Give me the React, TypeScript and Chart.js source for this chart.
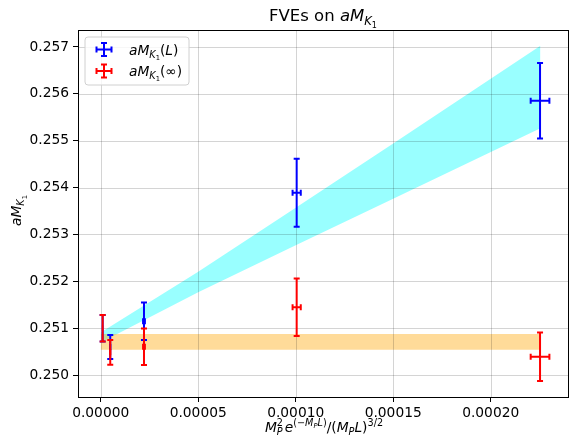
import React, { useEffect, useRef } from "react";
import { Chart, registerables } from "chart.js";

Chart.register(...registerables);

// ---- data ----
const xPoints = [1.0e-6, 4.9e-6, 2.22e-5, 1.005e-4, 2.253e-4];
const xErr = [2e-8, 1e-7, 4.7e-7, 2.1e-6, 4.8e-6];
const yFiniteL = [0.250997, 0.250598, 0.251146, 0.25389, 0.255854];
const yFiniteLErr = [0.000284, 0.000256, 0.000399, 0.000726, 0.000805];
const yInfinite = [0.250997, 0.250484, 0.250604, 0.251445, 0.250391];
const yInfiniteErr = [0.000284, 0.000263, 0.000391, 0.000612, 0.000516];

const fitBandX = [0, 0.00005, 0.0001, 0.00015, 0.0002255];
const fitBandUpper = [0.250907, 0.252205, 0.25357, 0.254942, 0.257025];
const fitBandLower = [0.250694, 0.251764, 0.252768, 0.25376, 0.255267];

const constBandX = [0, 0.0002255];
const constBandUpper = [0.250875, 0.250875];
const constBandLower = [0.25054, 0.25054];

const xTickValues = [0, 0.00005, 0.0001, 0.00015, 0.0002];
const xTickLabels = ["0.00000", "0.00005", "0.00010", "0.00015", "0.00020"];
const yTickValues = [0.25, 0.251, 0.252, 0.253, 0.254, 0.255, 0.256, 0.257];
const yTickLabels = ["0.250", "0.251", "0.252", "0.253", "0.254", "0.255", "0.256", "0.257"];

const FONT = "'DejaVu Sans', sans-serif";
const BASE = 13.8;

type Seg = { t: string; it?: boolean; s?: number; dy?: number; noAdv?: boolean };

function fontFor(seg: Seg, base: number) {
  return `${seg.it ? "italic " : ""}${base * (seg.s ?? 1)}px ${FONT}`;
}

function drawRich(ctx: CanvasRenderingContext2D, segs: Seg[], x: number, y: number, base: number, align: "left" | "center") {
  ctx.save();
  ctx.textBaseline = "alphabetic";
  ctx.textAlign = "left";
  let total = 0;
  let pend = 0;
  for (const sg of segs) {
    ctx.font = fontFor(sg, base);
    const w = ctx.measureText(sg.t).width;
    if (sg.noAdv) pend = Math.max(pend, w);
    else {
      total += Math.max(w, pend);
      pend = 0;
    }
  }
  total += pend;
  let cx = align === "center" ? x - total / 2 : x;
  pend = 0;
  for (const sg of segs) {
    ctx.font = fontFor(sg, base);
    const w = ctx.measureText(sg.t).width;
    ctx.fillText(sg.t, cx, y + (sg.dy ?? 0) * base);
    if (sg.noAdv) pend = Math.max(pend, w);
    else {
      cx += Math.max(w, pend);
      pend = 0;
    }
  }
  ctx.restore();
}

const aMK1: Seg[] = [
  { t: "a", it: true },
  { t: "M", it: true },
  { t: "K", it: true, s: 0.7, dy: 0.22 },
  { t: "1", s: 0.49, dy: 0.4 },
];

const legendLabels: Seg[][] = [
  [...aMK1, { t: "(" }, { t: "L", it: true }, { t: ")" }],
  [...aMK1, { t: "(" }, { t: "\u221E" }, { t: ")" }],
];
const legendColors = ["#0000ff", "#ff0000"];

const titleSegs: Seg[] = [{ t: "FVEs on " }, ...aMK1];

const xLabelSegs: Seg[] = [
  { t: "M", it: true },
  { t: "2", s: 0.7, dy: -0.42, noAdv: true },
  { t: "P", it: true, s: 0.7, dy: 0.25 },
  { t: " ", s: 0.4 },
  { t: "e", it: true },
  { t: "(\u2212", s: 0.7, dy: -0.45 },
  { t: "M", it: true, s: 0.7, dy: -0.45 },
  { t: "P", it: true, s: 0.49, dy: -0.32 },
  { t: "L", it: true, s: 0.7, dy: -0.45 },
  { t: ")", s: 0.7, dy: -0.45 },
  { t: "/(" },
  { t: "M", it: true },
  { t: "P", it: true, s: 0.7, dy: 0.25 },
  { t: "L", it: true },
  { t: ")" },
  { t: "3/2", s: 0.7, dy: -0.42 },
];

function drawErrorBar(
  ctx: CanvasRenderingContext2D,
  px: number, py: number, xl: number, xr: number, yt: number, yb: number, color: string, cap: number
) {
  ctx.strokeStyle = color;
  ctx.lineWidth = 2;
  ctx.lineCap = "butt";
  ctx.beginPath();
  ctx.moveTo(xl, py); ctx.lineTo(xr, py);
  ctx.moveTo(px, yt); ctx.lineTo(px, yb);
  // caps
  ctx.moveTo(xl, py - cap); ctx.lineTo(xl, py + cap);
  ctx.moveTo(xr, py - cap); ctx.lineTo(xr, py + cap);
  ctx.moveTo(px - cap, yt); ctx.lineTo(px + cap, yt);
  ctx.moveTo(px - cap, yb); ctx.lineTo(px + cap, yb);
  ctx.stroke();
}

const overlayPlugin = {
  id: "overlay",
  afterDatasetsDraw(chart: any) {
    const { ctx, chartArea, scales } = chart;
    const xs = scales.x;
    const ys = scales.y;
    ctx.save();
    // grid
    ctx.strokeStyle = "rgba(0,0,0,0.17)";
    ctx.lineWidth = 1;
    ctx.beginPath();
    for (const v of xTickValues) {
      const p = Math.round(xs.getPixelForValue(v)) + 0.5;
      ctx.moveTo(p, chartArea.top);
      ctx.lineTo(p, chartArea.bottom);
    }
    for (const v of yTickValues) {
      const p = Math.round(ys.getPixelForValue(v)) + 0.5;
      ctx.moveTo(chartArea.left, p);
      ctx.lineTo(chartArea.right, p);
    }
    ctx.stroke();

    // error bars
    const series = [
      { y: yFiniteL, e: yFiniteLErr, c: legendColors[0] },
      { y: yInfinite, e: yInfiniteErr, c: legendColors[1] },
    ];
    for (const s of series) {
      for (let i = 0; i < xPoints.length; i++) {
        const px = xs.getPixelForValue(xPoints[i]);
        const py = ys.getPixelForValue(s.y[i]);
        drawErrorBar(
          ctx, px, py,
          xs.getPixelForValue(xPoints[i] - xErr[i]),
          xs.getPixelForValue(xPoints[i] + xErr[i]),
          ys.getPixelForValue(s.y[i] + s.e[i]),
          ys.getPixelForValue(s.y[i] - s.e[i]),
          s.c, 3
        );
      }
    }

    // spines (top/right)
    ctx.strokeStyle = "#000";
    ctx.lineWidth = 1;
    ctx.strokeRect(Math.round(chartArea.left) + 0.5, Math.round(chartArea.top) + 0.5,
      Math.round(chartArea.right - chartArea.left), Math.round(chartArea.bottom - chartArea.top));

    // legend
    const lx = chartArea.left + 7, ly = chartArea.top + 7, lw = 104, lh = 48, r = 3;
    ctx.beginPath();
    ctx.moveTo(lx + r, ly);
    ctx.arcTo(lx + lw, ly, lx + lw, ly + lh, r);
    ctx.arcTo(lx + lw, ly + lh, lx, ly + lh, r);
    ctx.arcTo(lx, ly + lh, lx, ly, r);
    ctx.arcTo(lx, ly, lx + lw, ly, r);
    ctx.closePath();
    ctx.fillStyle = "rgba(255,255,255,0.8)";
    ctx.fill();
    ctx.strokeStyle = "#d0d0d0";
    ctx.stroke();
    for (let i = 0; i < 2; i++) {
      const cy = ly + 12.5 + i * 21.4;
      const cx = lx + 19;
      drawErrorBar(ctx, cx, cy, cx - 7.5, cx + 7.5, cy - 6.5, cy + 6.5, legendColors[i], 3);
      ctx.fillStyle = "#000";
      drawRich(ctx, legendLabels[i], lx + 44, cy + 5, BASE, "left");
    }

    // title
    ctx.fillStyle = "#000";
    const cxMid = (chartArea.left + chartArea.right) / 2;
    drawRich(ctx, titleSegs, cxMid, 21, 16.5, "center");
    // x label
    drawRich(ctx, xLabelSegs, cxMid + 1, 432, BASE, "center");
    // y label
    ctx.save();
    ctx.translate(21, (chartArea.top + chartArea.bottom) / 2 - 3);
    ctx.rotate(-Math.PI / 2);
    drawRich(ctx, aMK1, 0, 0, BASE, "center");
    ctx.restore();
    ctx.restore();
  },
};

export default function App() {
  const ref = useRef<HTMLCanvasElement | null>(null);
  useEffect(() => {
    if (!ref.current) return;
    const chart = new Chart(ref.current, {
      type: "line",
      data: {
        datasets: [
          {
            label: "const upper",
            data: constBandX.map((x, i) => ({ x, y: constBandUpper[i] })),
            borderWidth: 0, pointRadius: 0, tension: 0,
            backgroundColor: "rgba(255,165,0,0.4)", fill: "+1",
          },
          {
            label: "const lower",
            data: constBandX.map((x, i) => ({ x, y: constBandLower[i] })),
            borderWidth: 0, pointRadius: 0, tension: 0, fill: false,
          },
          {
            label: "fit upper",
            data: fitBandX.map((x, i) => ({ x, y: fitBandUpper[i] })),
            borderWidth: 0, pointRadius: 0, tension: 0,
            backgroundColor: "rgba(0,255,255,0.4)", fill: "+1",
          },
          {
            label: "fit lower",
            data: fitBandX.map((x, i) => ({ x, y: fitBandLower[i] })),
            borderWidth: 0, pointRadius: 0, tension: 0, fill: false,
          },
          {
            type: "scatter",
            label: "aMK1(L)",
            data: xPoints.map((x, i) => ({ x, y: yFiniteL[i] })),
            pointRadius: 0, showLine: false,
          } as any,
          {
            type: "scatter",
            label: "aMK1(inf)",
            data: xPoints.map((x, i) => ({ x, y: yInfinite[i] })),
            pointRadius: 0, showLine: false,
          } as any,
        ],
      },
      options: {
        animation: false,
        responsive: false,
        maintainAspectRatio: false,
        devicePixelRatio: 1,
        layout: { padding: { top: 30, right: 1, left: 0, bottom: 0 } },
        plugins: { legend: { display: false }, tooltip: { enabled: false }, title: { display: false } },
        scales: {
          x: {
            type: "linear",
            min: -1.164e-5,
            max: 2.3964e-4,
            afterBuildTicks: (s: any) => { s.ticks = xTickValues.map((v) => ({ value: v })); },
            afterFit: (s: any) => { s.height = 44; },
            ticks: {
              includeBounds: false,
              autoSkip: false,
              maxRotation: 0,
              padding: 3,
              color: "#000",
              font: { family: FONT, size: BASE },
              callback: (_v: any, i: number) => xTickLabels[i],
            },
            grid: { drawOnChartArea: false, drawTicks: true, tickLength: 5, tickColor: "#000", tickWidth: 1 },
            border: { display: true, color: "#000", width: 1 },
          },
          y: {
            type: "linear",
            min: 0.249531,
            max: 0.257362,
            afterBuildTicks: (s: any) => { s.ticks = yTickValues.map((v) => ({ value: v })); },
            afterFit: (s: any) => { s.width = 78; },
            ticks: {
              includeBounds: false,
              autoSkip: false,
              padding: 4,
              color: "#000",
              font: { family: FONT, size: BASE },
              callback: (_v: any, i: number) => yTickLabels[i],
            },
            grid: { drawOnChartArea: false, drawTicks: true, tickLength: 5, tickColor: "#000", tickWidth: 1 },
            border: { display: true, color: "#000", width: 1 },
          },
        },
      },
      plugins: [overlayPlugin],
    } as any);
    return () => chart.destroy();
  }, []);
  return (
    <div style={{ position: "fixed", left: 0, top: 0, width: 569, height: 441, background: "#fff" }}>
      <canvas ref={ref} width={569} height={441} style={{ display: "block" }} />
    </div>
  );
}
